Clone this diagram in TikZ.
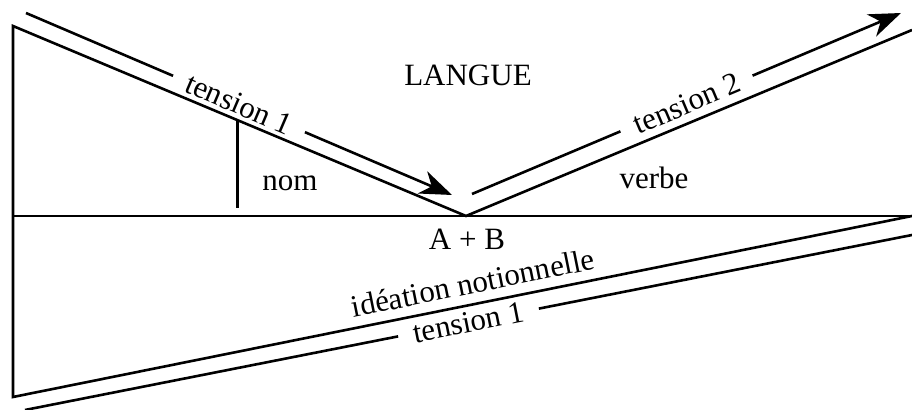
\documentclass[tikz,border=0pt]{standalone}
\usepackage{fontspec}
\setmainfont{Liberation Serif}
\usetikzlibrary{arrows.meta,calc}

\begin{document}
\begin{tikzpicture}[x=0.5pt, y=-0.5pt, line width=1.3pt,
        every node/.style={font=\fontsize{15.5}{18}\selectfont},
        gap/.style={sloped, inner xsep=7pt, inner ysep=0pt},
        tip/.style={-{Stealth[length=16pt, width=12pt, inset=5pt]}}]
        \useasboundingbox (0,0) rectangle (912,410);
        \coordinate (tl) at (13,26);
        \coordinate (ml) at (13,216);
        \coordinate (bl) at (13,397);
        \coordinate (apex) at (466,216);
        \coordinate (tr) at (912,30);
        \coordinate (br) at (912,216);
        \draw (tr) -- (apex) -- (tl) -- (bl)
            -- node[sloped, above, pos=.516, inner sep=4.5pt] (idee) {idéation notionnelle} (br);
        \draw (ml) -- (br);
        \coordinate (nomtop) at ($(tl)!.496!(apex)$);
        \coordinate (nombot) at ($(nomtop)+(0,88)$);
        \draw (nomtop) -- (nombot);

        \node (langue) at (468,75) {LANGUE};
        \node (nom) at (290,183) {nom};
        \node (verbe) at (654,178) {verbe};
        \node (ab) at (467,239) {A + B};

        \coordinate (in1) at (26,13);
        \coordinate (out1) at (452,195);
        \path (in1) -- node[gap] (t1) {tension 1} (out1);
        \draw (in1) -- (t1.west);
        \draw[tip] (t1.east) -- (out1);

        \coordinate (in2) at (472,194);
        \coordinate (out2) at (901,13);
        \path (in2) -- node[gap] (t2) {tension 2} (out2);
        \draw (in2) -- (t2.west);
        \draw[tip] (t2.east) -- (out2);

        \coordinate (in3) at (25,410);
        \coordinate (out3) at (912,235);
        \path (in3) -- node[gap] (t3) {tension 1} (out3);
        \draw (in3) -- (t3.west);
        \draw (t3.east) -- (out3);
    \end{tikzpicture}
\end{document}
